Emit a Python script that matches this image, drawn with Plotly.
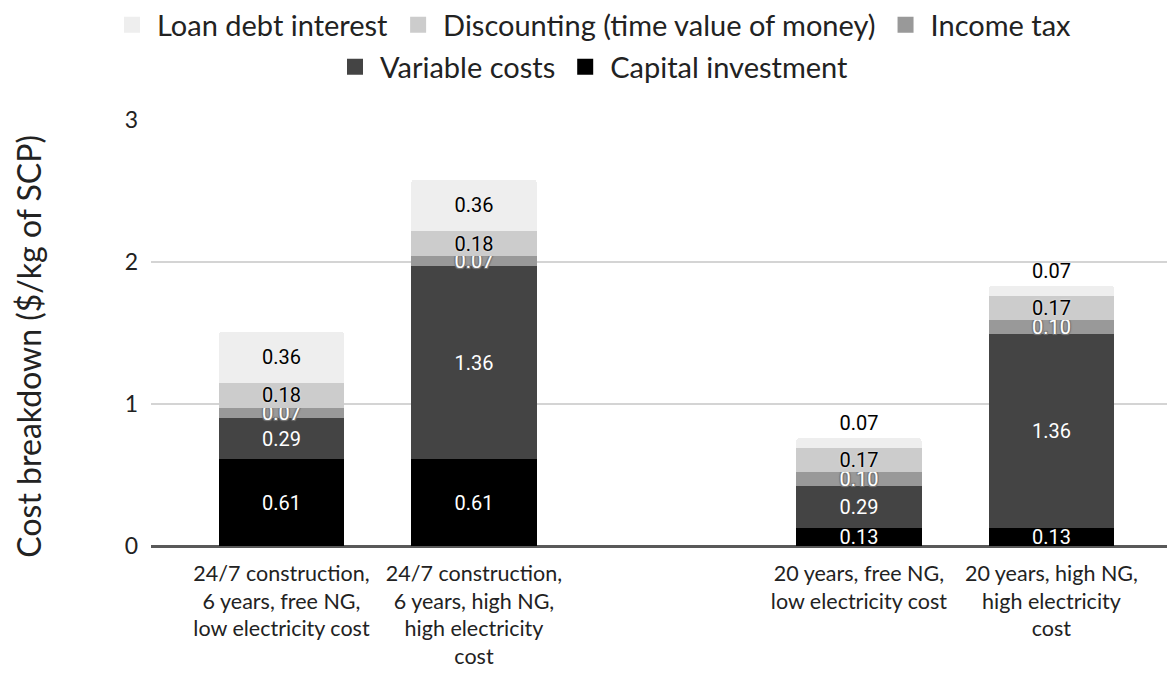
import plotly.graph_objects as go

# ---- data ----
scenarios = [
    "24/7 construction,<br>6 years, free NG,<br>low electricity cost",
    "24/7 construction,<br>6 years, high NG,<br>high electricity<br>cost",
    "20 years, free NG,<br>low electricity cost",
    "20 years, high NG,<br>high electricity<br>cost",
]
spacer = " "
axis_categories = [scenarios[0], scenarios[1], spacer, scenarios[2], scenarios[3]]

capital_investment = [0.61, 0.61, 0.13, 0.13]
variable_costs = [0.29, 1.36, 0.29, 1.36]
income_tax = [0.07, 0.07, 0.10, 0.10]
discounting = [0.18, 0.18, 0.17, 0.17]
loan_debt_interest = [0.36, 0.36, 0.07, 0.07]

series_names = ["Capital investment", "Variable costs", "Income tax",
                "Discounting (time value of money)", "Loan debt interest"]
series_values = [capital_investment, variable_costs, income_tax, discounting, loan_debt_interest]
series_colors = ["#000000", "#444444", "#999999", "#cccccc", "#eeeeee"]
label_colors = ["#ffffff", "#ffffff", "#ffffff", "#000000", "#000000"]
legend_groups = ["legend2", "legend2", "legend", "legend", "legend"]
loan_label_pos = ["inside", "inside", "outside", "outside"]

AX_FONT = "Lato"
TXT = "#222222"
W, H = 1167, 667  # page body has an 8px margin inside the 1175x675 window

fig = go.Figure()

for name, vals, col, lc, lg in zip(series_names, series_values, series_colors,
                                   label_colors, legend_groups):
    shadow = "none"
    if name == "Income tax":
        shadow = "-1px -1px 1px #777, 1px -1px 1px #777, -1px 1px 1px #777, 1px 1px 1px #777"
    elif name in ("Loan debt interest", "Discounting (time value of money)"):
        shadow = "0px 0px 2px #f4f4f4"
    fig.add_trace(go.Bar(
        x=scenarios, y=vals, name=name,
        marker=dict(color=col, line=dict(width=0)),
        texttemplate="%{y:.2f}",
        textposition=loan_label_pos if name == "Loan debt interest" else "inside",
        insidetextanchor="middle",
        constraintext="none",
        textfont=dict(family="Roboto", size=20, color=lc, shadow=shadow),
        outsidetextfont=dict(family="Roboto", size=20, color="#000000", shadow=shadow),
        showlegend=False,
        hoverinfo="skip",
    ))
    # legend entry with a larger square symbol
    fig.add_trace(go.Scatter(
        x=[None], y=[None], mode="markers", name=name,
        marker=dict(symbol="square", size=17, color=col),
        legend=lg, showlegend=True,
    ))

legend_common = dict(orientation="h", xref="container", yref="container",
                     x=584 / W, xanchor="center", yanchor="middle",
                     traceorder="reversed", itemwidth=40,
                     font=dict(family=AX_FONT, size=29, color=TXT),
                     bgcolor="rgba(0,0,0,0)")

fig.update_layout(
    width=W, height=H,
    barmode="stack",
    bargap=0.35,
    barcornerradius=3,
    plot_bgcolor="white",
    paper_bgcolor="white",
    margin=dict(l=143, r=0, t=112, b=129),
    font=dict(family=AX_FONT, color=TXT),
    legend=dict(legend_common, y=1 - 17 / H),
    legend2=dict(legend_common, y=1 - 59 / H),
    xaxis=dict(type="category", categoryorder="array", categoryarray=axis_categories,
               range=[-0.678, 4.642], showgrid=False, showline=True,
               linecolor="#595959", linewidth=1.5, ticks="",
               tickfont=dict(family=AX_FONT, size=21.5, color=TXT),
               ticklabelstandoff=7, fixedrange=True),
    yaxis=dict(range=[0, 3], tickvals=[0, 1, 2, 3], showgrid=True,
               gridcolor="#d4d4d4", gridwidth=1.5, zeroline=True,
               zerolinecolor="#595959", zerolinewidth=1.5, showline=False,
               ticks="", ticklabelstandoff=12,
               tickfont=dict(family=AX_FONT, size=23, color=TXT), fixedrange=True),
    annotations=[dict(text="Cost breakdown ($/kg of SCP)", textangle=-90,
                      xref="paper", yref="paper", x=(21 - 143) / 1024, y=0.468,
                      xanchor="center", yanchor="middle", showarrow=False,
                      font=dict(family=AX_FONT, size=32, color=TXT))],
)

fig.write_html("out.html")
